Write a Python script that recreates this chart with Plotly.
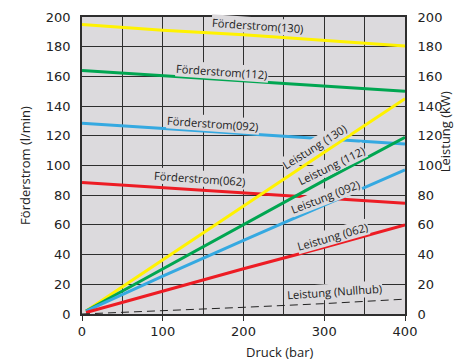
import plotly.graph_objects as go

# Förderstrom (flow) lines, l/min, vs Druck (bar)
p_flow = [0, 100, 200, 300, 400]
flow_130 = [195, 191, 188, 184, 180.5]
flow_112 = [164, 160.5, 157, 153.5, 150]
flow_092 = [128.5, 125, 121.5, 118, 114.5]
flow_062 = [88.5, 85, 81.5, 78, 74.5]

# Leistung (power) lines, kW
p_pow = [5, 100, 200, 300, 400]
pow_130 = [2, 36.5, 73, 109, 145]
pow_112 = [2, 30.5, 60, 90, 119]
pow_092 = [2, 25.5, 49.5, 73, 97]
pow_062 = [1, 15.5, 30.5, 45, 60]
p_null = [0, 100, 200, 300, 400]
pow_null = [0, 2, 4.5, 7, 10]

x_ticks = [0, 100, 200, 300, 400]
y_ticks = [0, 20, 40, 60, 80, 100, 120, 140, 160, 180, 200]

YEL = "#fff200"
GRN = "#00a651"
BLU = "#35a9e1"
RED = "#ed1c24"
BG = "#dcdadd"
GRID = "#2e2e2e"

fig = go.Figure()
for x, y, c in [
    (p_flow, flow_130, YEL), (p_flow, flow_112, GRN), (p_flow, flow_092, BLU), (p_flow, flow_062, RED),
    (p_pow, pow_130, YEL), (p_pow, pow_112, GRN), (p_pow, pow_092, BLU), (p_pow, pow_062, RED),
]:
    fig.add_trace(go.Scatter(x=x, y=y, mode="lines", line=dict(color=c, width=3), showlegend=False, hoverinfo="skip"))
fig.add_trace(go.Scatter(x=p_null, y=pow_null, mode="lines", line=dict(color="#222", width=1, dash="8px,5px"), showlegend=False))
fig.add_trace(go.Scatter(x=[0, 400], y=[0, 200], yaxis="y2", mode="lines", line=dict(width=0), opacity=0, showlegend=False, hoverinfo="skip"))

labels = [
    ("Förderstrom(130)", 218, 194, 4),
    ("Förderstrom(112)", 173, 163, 4),
    ("Förderstrom(092)", 162, 128, 4),
    ("Förderstrom(062)", 146, 91.5, 4),
    ("Leistung (130)", 288, 113, -32),
    ("Leistung (112)", 309, 100, -26),
    ("Leistung (092)", 302, 79, -21),
    ("Leistung (062)", 310, 52.5, -16),
    ("Leistung (Nullhub)", 313, 15, -4),
]
for t, x, y, a in labels:
    fig.add_annotation(x=x, y=y, text=t, showarrow=False, textangle=a, bgcolor=BG,
                       font=dict(family="Open Sans", size=11.2, color="#222"), borderpad=0)

fig.add_annotation(x=0.72, y=-0.128, xref="paper", yref="paper", text="Druck (bar)", showarrow=False,
                   yanchor="middle", font=dict(family="Open Sans", size=13, color="#222"))
fig.add_annotation(x=1.158, y=0.755, xref="paper", yref="paper", text="Leistung (kW)", textangle=-90,
                   showarrow=False, font=dict(family="Open Sans", size=13, color="#222"))

fig.update_layout(
    width=457, height=362,
    margin=dict(l=82, r=52, t=17, b=48, autoexpand=False),
    plot_bgcolor=BG, paper_bgcolor="white",
    font=dict(family="DejaVu Sans", size=13, color="#222"),
    xaxis=dict(range=[0, 400], tickvals=x_ticks, showgrid=True, gridcolor=GRID, gridwidth=1.2,
               minor=dict(dtick=50, showgrid=True, gridcolor=GRID, gridwidth=1.2, ticks=""),
               ticks="outside", ticklen=5, tickcolor=GRID, automargin=False,
               showline=True, linecolor=GRID, linewidth=1.5, mirror=True, zeroline=False),
    yaxis=dict(range=[0, 200], tickvals=y_ticks, showgrid=True, gridcolor=GRID, gridwidth=1.2,
               ticks="outside", ticklen=7, tickcolor="rgba(0,0,0,0)", automargin=False,
               showline=True, linecolor=GRID, linewidth=1.5, mirror=True, zeroline=False,
               title=dict(text="Förderstrom (l/min)", font=dict(family="Open Sans", size=13), standoff=12)),
    yaxis2=dict(range=[0, 200], tickvals=y_ticks, overlaying="y", side="right", showgrid=False,
                zeroline=False, ticks="outside", ticklen=9, tickcolor="rgba(0,0,0,0)",
                showline=False, automargin=False),
)
fig.write_html("out.html", post_script="document.body.style.margin='0';",
               config={"displayModeBar": False})
